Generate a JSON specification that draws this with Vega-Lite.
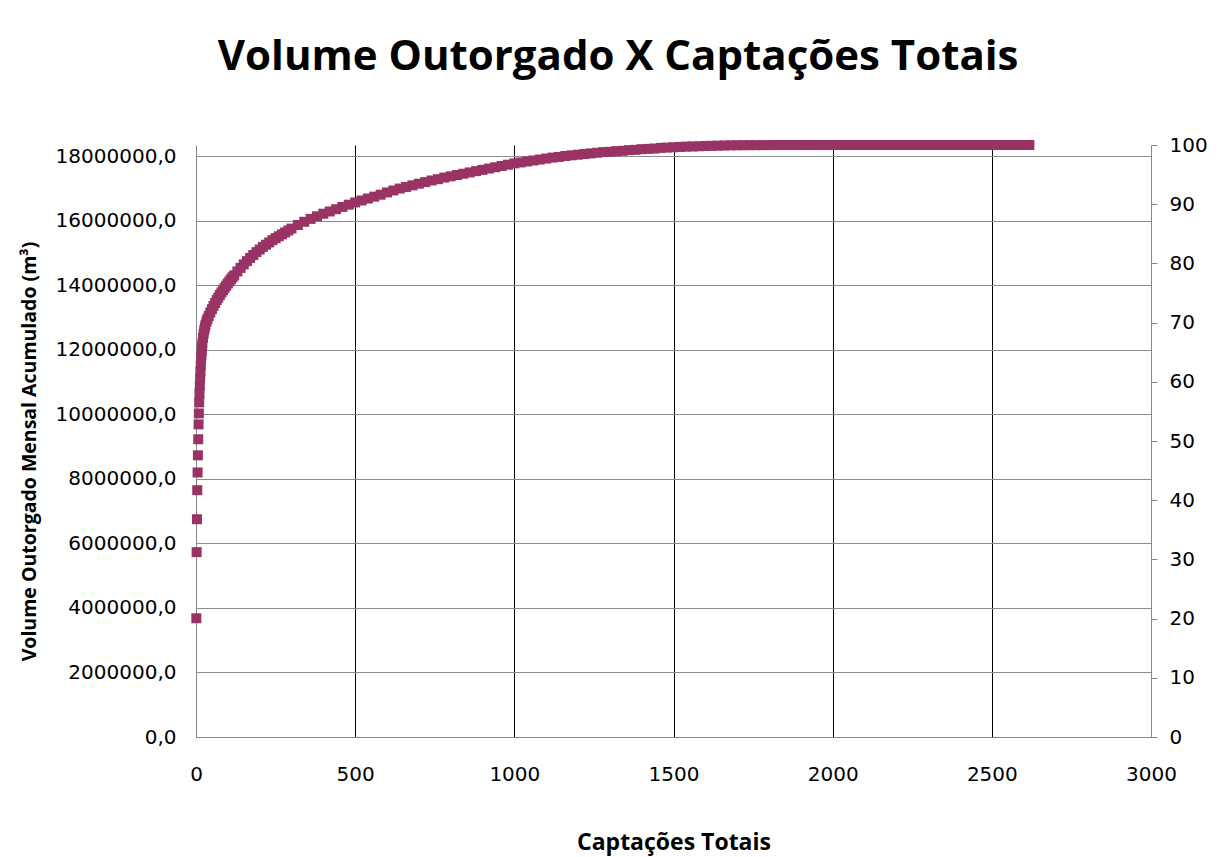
{
  "$schema": "https://vega.github.io/schema/vega-lite/v6.json",
  "width": 955,
  "height": 592,
  "autosize": {"type": "none"},
  "padding": {"left": 196, "top": 145, "right": 73, "bottom": 120},
  "background": "white",
  "title": {
    "text": "Volume Outorgado X Captações Totais",
    "font": "Open Sans",
    "fontSize": 42,
    "fontWeight": "bold",
    "color": "black",
    "anchor": "middle",
    "frame": "bounds",
    "offset": 56,
    "dx": 5
  },
  "config": {
    "view": {"stroke": null},
    "axis": {
      "labelFont": "DejaVu Sans",
      "labelFontSize": 20,
      "labelColor": "black",
      "titleFont": "Open Sans",
      "titleFontWeight": "bold",
      "titleColor": "black",
      "domainColor": "#868686",
      "domainWidth": 1,
      "labelOverlap": false,
      "labelFlush": false
    }
  },
  "data": {
    "values": [
      {"captacoes": 1, "volume": 3680000},
      {"captacoes": 2, "volume": 5730000},
      {"captacoes": 3, "volume": 6750000},
      {"captacoes": 4, "volume": 7650000},
      {"captacoes": 5, "volume": 8200000},
      {"captacoes": 6, "volume": 8730000},
      {"captacoes": 7, "volume": 9230000},
      {"captacoes": 8, "volume": 9690000},
      {"captacoes": 9, "volume": 10030000},
      {"captacoes": 10, "volume": 10370000},
      {"captacoes": 11, "volume": 10640000},
      {"captacoes": 12, "volume": 10890000},
      {"captacoes": 13, "volume": 11120000},
      {"captacoes": 14, "volume": 11330000},
      {"captacoes": 15, "volume": 11520000},
      {"captacoes": 16, "volume": 11690000},
      {"captacoes": 17, "volume": 11840000},
      {"captacoes": 18, "volume": 11970000},
      {"captacoes": 19, "volume": 12090000},
      {"captacoes": 20, "volume": 12200000},
      {"captacoes": 22, "volume": 12370000},
      {"captacoes": 24, "volume": 12500000},
      {"captacoes": 26, "volume": 12610000},
      {"captacoes": 28, "volume": 12700000},
      {"captacoes": 30, "volume": 12780000},
      {"captacoes": 33, "volume": 12880000},
      {"captacoes": 36, "volume": 12960000},
      {"captacoes": 40, "volume": 13050000},
      {"captacoes": 45, "volume": 13160000},
      {"captacoes": 50, "volume": 13260000},
      {"captacoes": 55, "volume": 13360000},
      {"captacoes": 60, "volume": 13450000},
      {"captacoes": 65, "volume": 13540000},
      {"captacoes": 70, "volume": 13620000},
      {"captacoes": 75, "volume": 13700000},
      {"captacoes": 80, "volume": 13780000},
      {"captacoes": 85, "volume": 13850000},
      {"captacoes": 90, "volume": 13920000},
      {"captacoes": 95, "volume": 13990000},
      {"captacoes": 100, "volume": 14060000},
      {"captacoes": 105, "volume": 14125000},
      {"captacoes": 110, "volume": 14190000},
      {"captacoes": 115, "volume": 14250000},
      {"captacoes": 120, "volume": 14310000},
      {"captacoes": 130, "volume": 14430000},
      {"captacoes": 140, "volume": 14540000},
      {"captacoes": 150, "volume": 14650000},
      {"captacoes": 160, "volume": 14750000},
      {"captacoes": 170, "volume": 14850000},
      {"captacoes": 180, "volume": 14940000},
      {"captacoes": 190, "volume": 15030000},
      {"captacoes": 200, "volume": 15110000},
      {"captacoes": 210, "volume": 15190000},
      {"captacoes": 220, "volume": 15260000},
      {"captacoes": 230, "volume": 15330000},
      {"captacoes": 240, "volume": 15400000},
      {"captacoes": 250, "volume": 15460000},
      {"captacoes": 260, "volume": 15520000},
      {"captacoes": 270, "volume": 15580000},
      {"captacoes": 280, "volume": 15640000},
      {"captacoes": 290, "volume": 15700000},
      {"captacoes": 300, "volume": 15760000},
      {"captacoes": 320, "volume": 15870000},
      {"captacoes": 340, "volume": 15970000},
      {"captacoes": 360, "volume": 16060000},
      {"captacoes": 380, "volume": 16140000},
      {"captacoes": 400, "volume": 16220000},
      {"captacoes": 420, "volume": 16290000},
      {"captacoes": 440, "volume": 16360000},
      {"captacoes": 460, "volume": 16430000},
      {"captacoes": 480, "volume": 16500000},
      {"captacoes": 500, "volume": 16570000},
      {"captacoes": 520, "volume": 16630000},
      {"captacoes": 540, "volume": 16690000},
      {"captacoes": 560, "volume": 16750000},
      {"captacoes": 580, "volume": 16810000},
      {"captacoes": 600, "volume": 16880000},
      {"captacoes": 620, "volume": 16940000},
      {"captacoes": 640, "volume": 17000000},
      {"captacoes": 660, "volume": 17050000},
      {"captacoes": 680, "volume": 17100000},
      {"captacoes": 700, "volume": 17150000},
      {"captacoes": 720, "volume": 17200000},
      {"captacoes": 740, "volume": 17250000},
      {"captacoes": 760, "volume": 17290000},
      {"captacoes": 780, "volume": 17340000},
      {"captacoes": 800, "volume": 17380000},
      {"captacoes": 820, "volume": 17420000},
      {"captacoes": 840, "volume": 17460000},
      {"captacoes": 860, "volume": 17500000},
      {"captacoes": 880, "volume": 17540000},
      {"captacoes": 900, "volume": 17580000},
      {"captacoes": 920, "volume": 17620000},
      {"captacoes": 940, "volume": 17660000},
      {"captacoes": 960, "volume": 17700000},
      {"captacoes": 980, "volume": 17740000},
      {"captacoes": 1000, "volume": 17780000},
      {"captacoes": 1020, "volume": 17810000},
      {"captacoes": 1040, "volume": 17840000},
      {"captacoes": 1060, "volume": 17870000},
      {"captacoes": 1080, "volume": 17900000},
      {"captacoes": 1100, "volume": 17930000},
      {"captacoes": 1120, "volume": 17960000},
      {"captacoes": 1140, "volume": 17980000},
      {"captacoes": 1160, "volume": 18010000},
      {"captacoes": 1180, "volume": 18030000},
      {"captacoes": 1200, "volume": 18050000},
      {"captacoes": 1220, "volume": 18070000},
      {"captacoes": 1240, "volume": 18090000},
      {"captacoes": 1260, "volume": 18110000},
      {"captacoes": 1280, "volume": 18130000},
      {"captacoes": 1300, "volume": 18140000},
      {"captacoes": 1320, "volume": 18160000},
      {"captacoes": 1340, "volume": 18170000},
      {"captacoes": 1360, "volume": 18190000},
      {"captacoes": 1380, "volume": 18200000},
      {"captacoes": 1400, "volume": 18220000},
      {"captacoes": 1420, "volume": 18230000},
      {"captacoes": 1440, "volume": 18240000},
      {"captacoes": 1460, "volume": 18260000},
      {"captacoes": 1480, "volume": 18270000},
      {"captacoes": 1500, "volume": 18280000},
      {"captacoes": 1520, "volume": 18290000},
      {"captacoes": 1540, "volume": 18300000},
      {"captacoes": 1560, "volume": 18305000},
      {"captacoes": 1580, "volume": 18310000},
      {"captacoes": 1600, "volume": 18320000},
      {"captacoes": 1620, "volume": 18325000},
      {"captacoes": 1640, "volume": 18330000},
      {"captacoes": 1660, "volume": 18335000},
      {"captacoes": 1680, "volume": 18340000},
      {"captacoes": 1700, "volume": 18342000},
      {"captacoes": 1720, "volume": 18344000},
      {"captacoes": 1740, "volume": 18345000},
      {"captacoes": 1760, "volume": 18346000},
      {"captacoes": 1780, "volume": 18347000},
      {"captacoes": 1800, "volume": 18348000},
      {"captacoes": 1820, "volume": 18349000},
      {"captacoes": 1840, "volume": 18349000},
      {"captacoes": 1860, "volume": 18349000},
      {"captacoes": 1880, "volume": 18349000},
      {"captacoes": 1900, "volume": 18349000},
      {"captacoes": 1920, "volume": 18349000},
      {"captacoes": 1940, "volume": 18349000},
      {"captacoes": 1960, "volume": 18349000},
      {"captacoes": 1980, "volume": 18349000},
      {"captacoes": 2000, "volume": 18349000},
      {"captacoes": 2020, "volume": 18350000},
      {"captacoes": 2040, "volume": 18350000},
      {"captacoes": 2060, "volume": 18350000},
      {"captacoes": 2080, "volume": 18350000},
      {"captacoes": 2100, "volume": 18350000},
      {"captacoes": 2120, "volume": 18350000},
      {"captacoes": 2140, "volume": 18350000},
      {"captacoes": 2160, "volume": 18350000},
      {"captacoes": 2180, "volume": 18350000},
      {"captacoes": 2200, "volume": 18350000},
      {"captacoes": 2220, "volume": 18350000},
      {"captacoes": 2240, "volume": 18350000},
      {"captacoes": 2260, "volume": 18350000},
      {"captacoes": 2280, "volume": 18350000},
      {"captacoes": 2300, "volume": 18350000},
      {"captacoes": 2320, "volume": 18350000},
      {"captacoes": 2340, "volume": 18350000},
      {"captacoes": 2360, "volume": 18350000},
      {"captacoes": 2380, "volume": 18350000},
      {"captacoes": 2400, "volume": 18350000},
      {"captacoes": 2420, "volume": 18350000},
      {"captacoes": 2440, "volume": 18350000},
      {"captacoes": 2460, "volume": 18350000},
      {"captacoes": 2480, "volume": 18350000},
      {"captacoes": 2500, "volume": 18350000},
      {"captacoes": 2520, "volume": 18350000},
      {"captacoes": 2540, "volume": 18350000},
      {"captacoes": 2560, "volume": 18350000},
      {"captacoes": 2580, "volume": 18350000},
      {"captacoes": 2600, "volume": 18350000},
      {"captacoes": 2618, "volume": 18350000}
    ]
  },
  "layer": [
    {
      "mark": {"type": "square", "size": 100, "color": "#993366", "opacity": 1, "filled": true},
      "encoding": {
        "x": {
          "field": "captacoes",
          "type": "quantitative",
          "scale": {"domain": [0, 3000], "nice": false, "zero": true},
          "axis": {
            "values": [0, 500, 1000, 1500, 2000, 2500, 3000],
            "format": "d",
            "grid": true,
            "gridColor": {"condition": {"test": "datum.value == 0 || datum.value == 3000", "value": "transparent"}, "value": "#000000"},
            "gridWidth": 1,
            "ticks": false,
            "labelPadding": 27,
            "title": "Captações Totais",
            "titleFontSize": 23,
            "titlePadding": 47
          }
        },
        "y": {
          "field": "volume",
          "type": "quantitative",
          "scale": {"domain": [0, 18350000], "nice": false, "zero": true},
          "axis": {
            "values": [0, 2000000, 4000000, 6000000, 8000000, 10000000, 12000000, 14000000, 16000000, 18000000],
            "labelExpr": "replace(format(datum.value, '.1f'), '.', ',')",
            "grid": true,
            "gridColor": "#8c8c8c",
            "gridWidth": 1,
            "ticks": false,
            "labelPadding": 20,
            "title": "Volume  Outorgado Mensal Acumulado (m³)",
            "titleFontSize": 19.5,
            "titlePadding": 16,
            "titleY": 306
          }
        }
      }
    },
    {
      "mark": {"type": "point", "opacity": 0},
      "encoding": {
        "y": {
          "datum": 0,
          "type": "quantitative",
          "scale": {"domain": [0, 100], "nice": false},
          "axis": {
            "orient": "right",
            "values": [0, 10, 20, 30, 40, 50, 60, 70, 80, 90, 100],
            "grid": false,
            "ticks": true,
            "tickSize": 6,
            "tickColor": "#868686",
            "labelPadding": 12,
            "title": null
          }
        }
      }
    }
  ],
  "resolve": {"scale": {"y": "independent"}}
}
